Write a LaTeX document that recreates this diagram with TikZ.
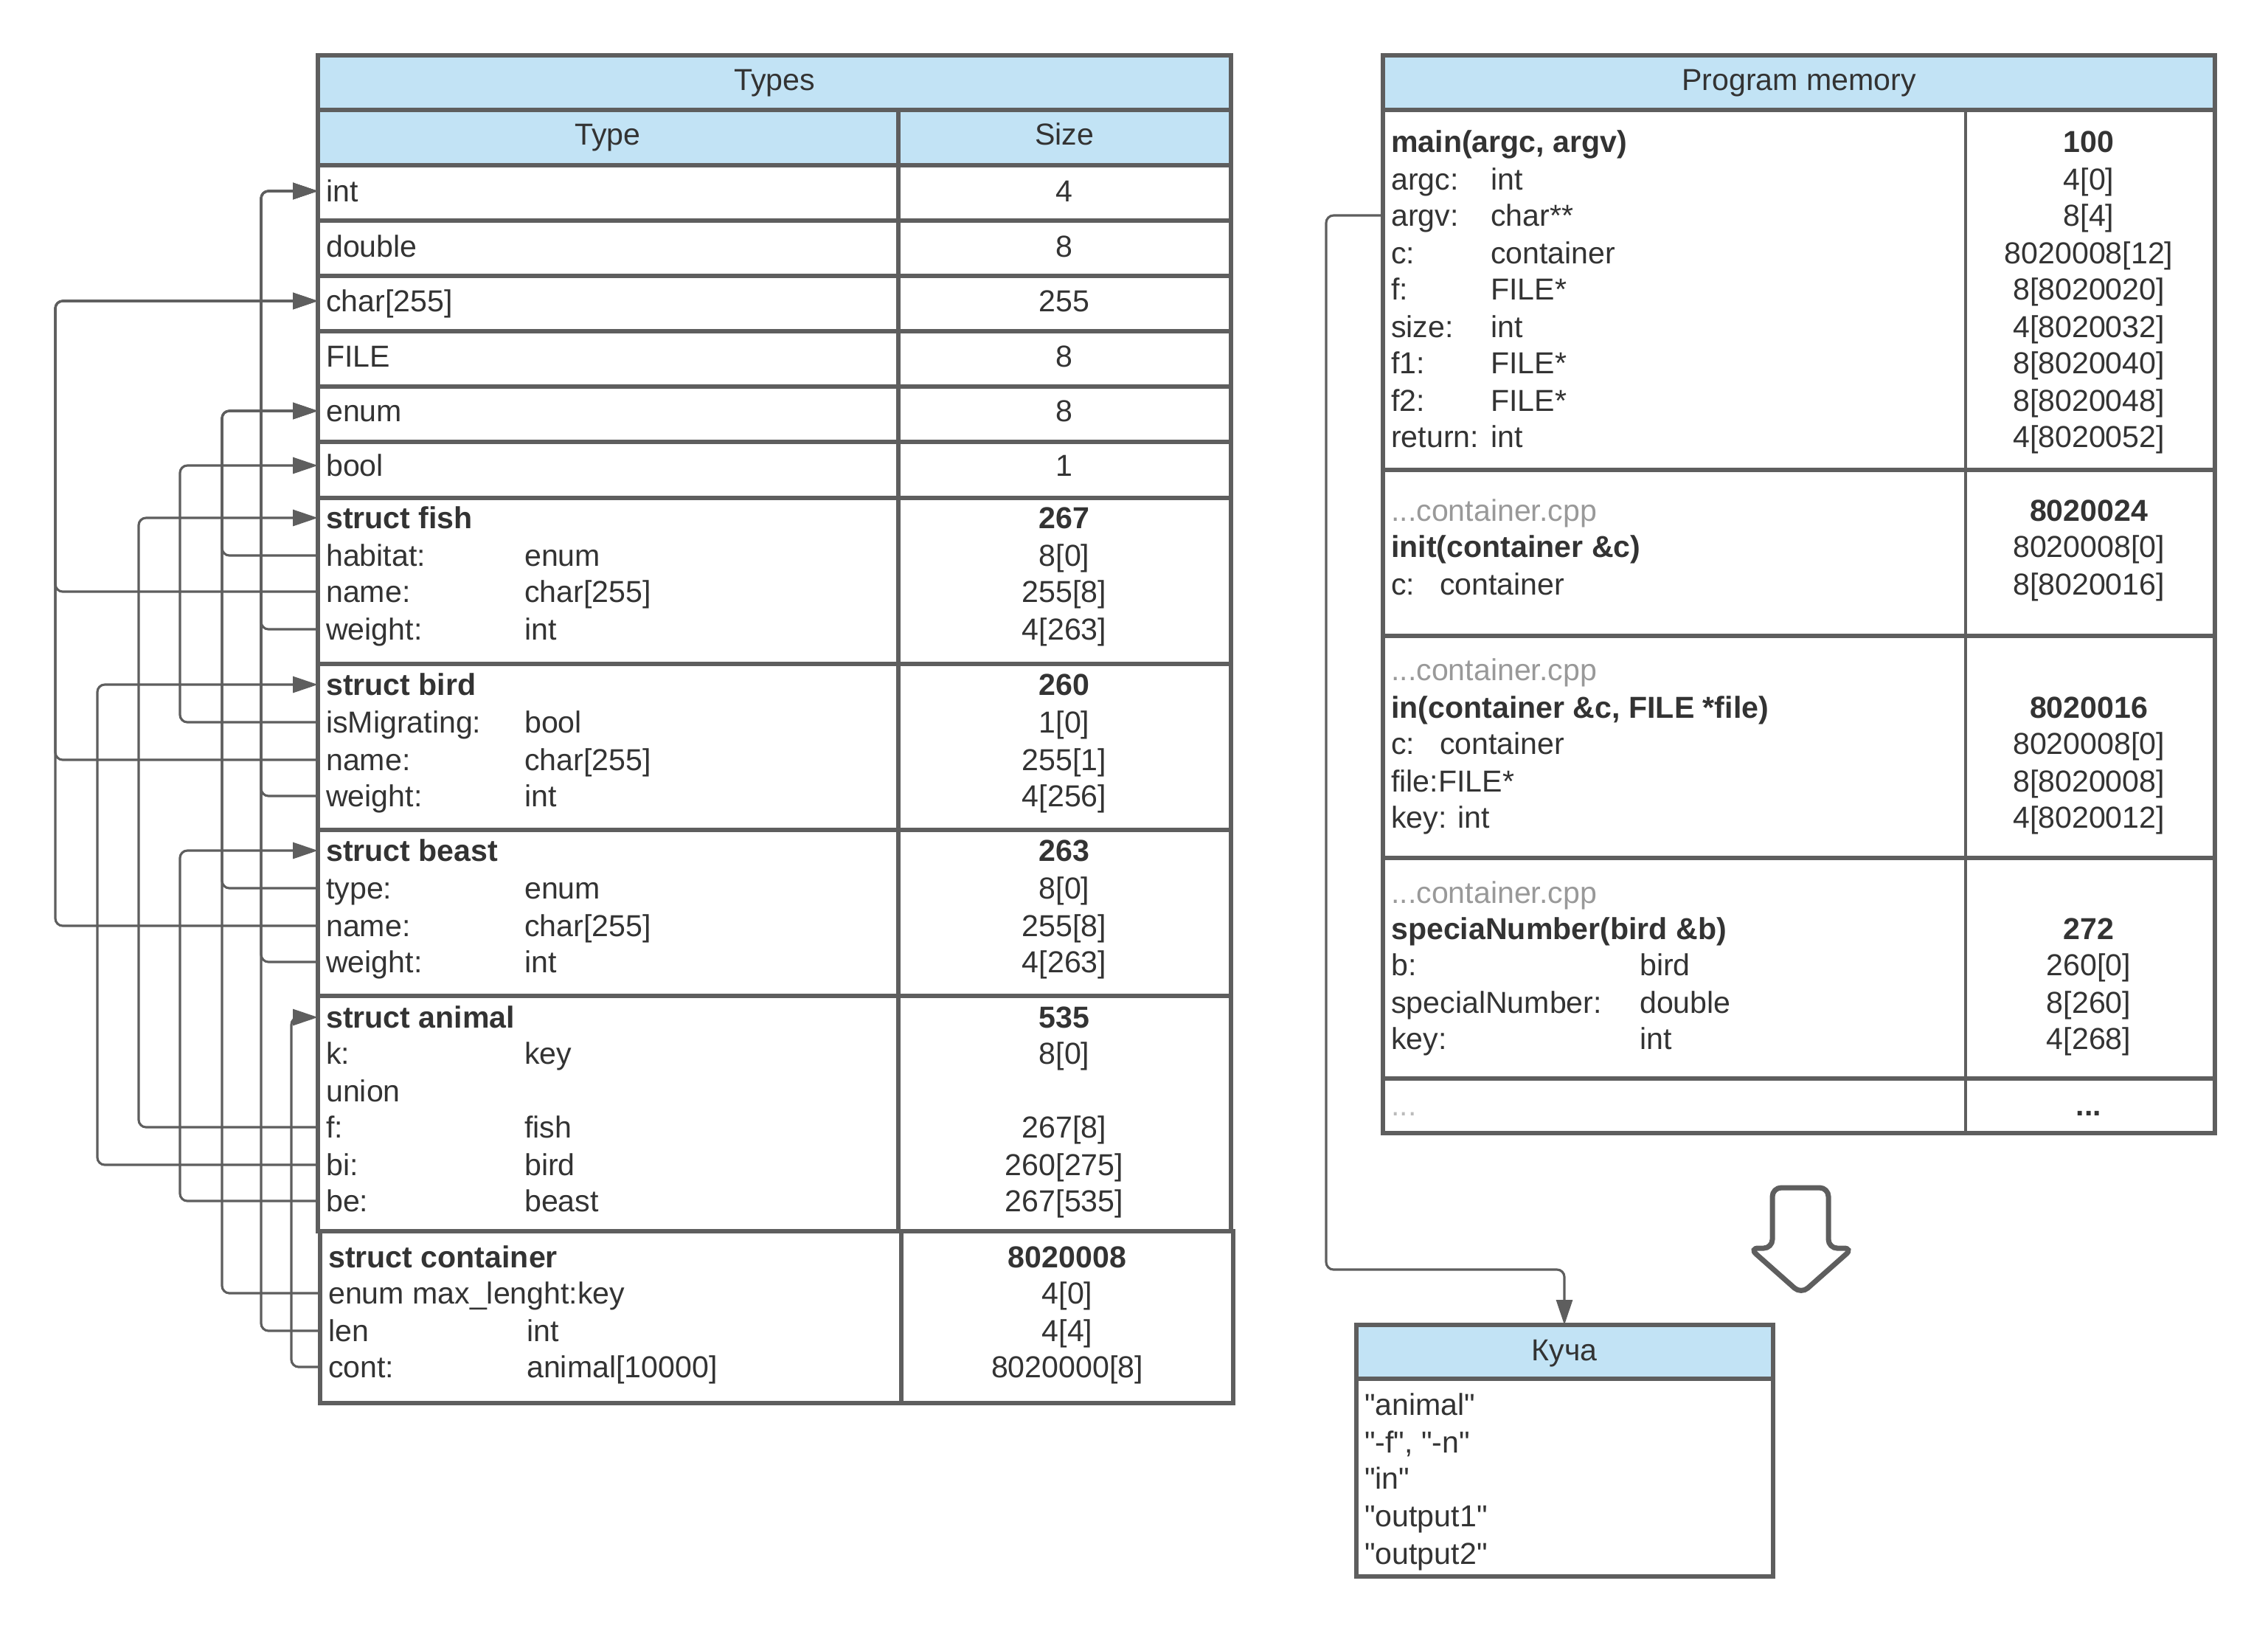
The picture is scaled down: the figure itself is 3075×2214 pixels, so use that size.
\documentclass[tikz,border=0pt]{standalone}
\usepackage{fontspec}
\setmainfont{Liberation Sans}[Ligatures=TeXOff]
\usepackage{tikz}
\usetikzlibrary{arrows.meta}
\definecolor{edge}{HTML}{5E5E5E}
\definecolor{hdr}{HTML}{C2E3F5}
\definecolor{ink}{HTML}{333333}
\definecolor{faint}{HTML}{999999}
\definecolor{fainter}{HTML}{BBBBBB}
\tikzset{%
  tipA/.tip={Triangle[length=3.4mm,width=2.2mm]},
  frame/.style={draw=edge, line width=1.9pt},
  thinframe/.style={draw=edge, line width=1.2pt},
  txt/.style={inner xsep=1.05mm, inner ysep=0pt, text=ink,
    font=\fontsize{11.7}{14.2}\selectfont, text height=3.3mm, text depth=0.5mm},
  fld/.style={txt, anchor=west},
  conn/.style={draw=edge, line width=0.9pt, rounded corners=1mm, -tipA}
}
\newcommand{\fname}[2][26.9mm]{\makebox[#1][l]{#2}}

\begin{document}
\begin{tikzpicture}[x=0.1mm,y=-0.1mm]
\useasboundingbox (0,0) rectangle (3075,2214);
% Types
\fill[hdr] (431,75) rectangle (1669,224);
\draw[frame] (431,75) rectangle (1669,1669);
\draw[frame] (431,149) -- (1669,149);
\draw[frame] (1218,149) -- (1218,1669);
\draw[frame] (431,224) -- (1669,224);
\draw[frame] (431,299) -- (1669,299);
\draw[frame] (431,374) -- (1669,374);
\draw[frame] (431,449) -- (1669,449);
\draw[frame] (431,524) -- (1669,524);
\draw[frame] (431,599) -- (1669,599);
\draw[frame] (431,675) -- (1669,675);
\draw[frame] (431,900) -- (1669,900);
\draw[frame] (431,1125) -- (1669,1125);
\draw[frame] (431,1350) -- (1669,1350);
\draw[frame] (434,1669) rectangle (1672,1902);
\draw[frame] (1222,1669) -- (1222,1902);
\node[txt] (types) at (1050,108) {Types};
\node[txt] (typeHd) at (824,182) {Type};
\node[txt] (sizeHd) at (1443,182) {Size};
\node[fld] (tInt) at (431,259) {int};
\node[txt] (zInt) at (1443,259) {4};
\node[fld] (tDouble) at (431,334) {double};
\node[txt] (zDouble) at (1443,334) {8};
\node[fld] (tChar) at (431,408) {char[255]};
\node[txt] (zChar) at (1443,408) {255};
\node[fld] (tFile) at (431,483) {FILE};
\node[txt] (zFile) at (1443,483) {8};
\node[fld] (tEnum) at (431,557) {enum};
\node[txt] (zEnum) at (1443,557) {8};
\node[fld] (tBool) at (431,631) {bool};
\node[txt] (zBool) at (1443,631) {1};
% struct fish
\node[fld] (sFish) at (431,702) {\textbf{struct fish}};
\node[fld] (fishHab) at (431,753) {\fname{habitat:}enum};
\node[fld] (fishName) at (431,802) {\fname{name:}char[255]};
\node[fld] (fishWt) at (431,853) {\fname{weight:}int};
\node[txt] (zFish) at (1443,702) {\textbf{267}};
\node[txt] (zFishHab) at (1443,753) {8[0]};
\node[txt] (zFishName) at (1443,802) {255[8]};
\node[txt] (zFishWt) at (1443,853) {4[263]};
% struct bird
\node[fld] (sBird) at (431,928) {\textbf{struct bird}};
\node[fld] (birdMig) at (431,979) {\fname{isMigrating:}bool};
\node[fld] (birdName) at (431,1030) {\fname{name:}char[255]};
\node[fld] (birdWt) at (431,1079) {\fname{weight:}int};
\node[txt] (zBird) at (1443,928) {\textbf{260}};
\node[txt] (zBirdMig) at (1443,979) {1[0]};
\node[txt] (zBirdName) at (1443,1030) {255[1]};
\node[txt] (zBirdWt) at (1443,1079) {4[256]};
% struct beast
\node[fld] (sBeast) at (431,1153) {\textbf{struct beast}};
\node[fld] (beastType) at (431,1204) {\fname{type:}enum};
\node[fld] (beastName) at (431,1255) {\fname{name:}char[255]};
\node[fld] (beastWt) at (431,1304) {\fname{weight:}int};
\node[txt] (zBeast) at (1443,1153) {\textbf{263}};
\node[txt] (zBeastType) at (1443,1204) {8[0]};
\node[txt] (zBeastName) at (1443,1255) {255[8]};
\node[txt] (zBeastWt) at (1443,1304) {4[263]};
% struct animal
\node[fld] (sAnimal) at (431,1379) {\textbf{struct animal}};
\node[fld] (anK) at (431,1428) {\fname{k:}key};
\node[fld] (anUnion) at (431,1479) {union};
\node[fld] (anF) at (431,1528) {\fname{f:}fish};
\node[fld] (anBi) at (431,1579) {\fname{bi:}bird};
\node[fld] (anBe) at (431,1628) {\fname{be:}beast};
\node[txt] (zAnimal) at (1443,1379) {\textbf{535}};
\node[txt] (zAnK) at (1443,1428) {8[0]};
\node[txt] (zAnF) at (1443,1528) {267[8]};
\node[txt] (zAnBi) at (1443,1579) {260[275]};
\node[txt] (zAnBe) at (1443,1628) {267[535]};
% struct container
\node[fld] (sCont) at (434,1704) {\textbf{struct container}};
\node[fld] (contMax) at (434,1753) {enum max\_lenght:key};
\node[fld] (contLen) at (434,1804) {\fname{len}int};
\node[fld] (contCont) at (434,1853) {\fname{cont:}animal[10000]};
\node[txt] (zCont) at (1447,1704) {\textbf{8020008}};
\node[txt] (zContMax) at (1447,1753) {4[0]};
\node[txt] (zContLen) at (1447,1804) {4[4]};
\node[txt] (zContCont) at (1447,1853) {8020000[8]};
% links to the types
\coordinate (busChar) at (75,0);
\coordinate (busBird) at (132,0);
\coordinate (busFish) at (188,0);
\coordinate (busBool) at (244,0);
\coordinate (busEnum) at (301,0);
\coordinate (busInt) at (354,0);
\coordinate (busAnimal) at (395,0);
\draw[conn] (contLen.west) -- (contLen.west -| busInt) |- (tInt.west);
\draw[conn] (beastWt.west) -- (beastWt.west -| busInt) |- (tInt.west);
\draw[conn] (birdWt.west) -- (birdWt.west -| busInt) |- (tInt.west);
\draw[conn] (fishWt.west) -- (fishWt.west -| busInt) |- (tInt.west);
\draw[conn] (beastName.west) -- (beastName.west -| busChar) |- (tChar.west);
\draw[conn] (birdName.west) -- (birdName.west -| busChar) |- (tChar.west);
\draw[conn] (fishName.west) -- (fishName.west -| busChar) |- (tChar.west);
\draw[conn] (contMax.west) -- (contMax.west -| busEnum) |- (tEnum.west);
\draw[conn] (beastType.west) -- (beastType.west -| busEnum) |- (tEnum.west);
\draw[conn] (fishHab.west) -- (fishHab.west -| busEnum) |- (tEnum.west);
\draw[conn] (birdMig.west) -- (birdMig.west -| busBool) |- (tBool.west);
\draw[conn] (anF.west) -- (anF.west -| busFish) |- (sFish.west);
\draw[conn] (anBi.west) -- (anBi.west -| busBird) |- (sBird.west);
\draw[conn] (anBe.west) -- (anBe.west -| busBool) |- (sBeast.west);
\draw[conn] (contCont.west) -- (contCont.west -| busAnimal) |- (sAnimal.west);
% Program memory
\fill[hdr] (1875,75) rectangle (3003,149);
\draw[frame] (1875,75) rectangle (3003,1536);
\draw[frame] (1875,149) -- (3003,149);
\draw[thinframe] (2665,149) -- (2665,1536);
\draw[frame] (1875,637) -- (3003,637);
\draw[frame] (1875,862) -- (3003,862);
\draw[frame] (1875,1163) -- (3003,1163);
\draw[frame] (1875,1462) -- (3003,1462);
\node[txt] (progmem) at (2439,108) {Program memory};
\node[fld] (mMain) at (1875,192) {\textbf{main(argc, argv)}};
\node[fld] (mArgc) at (1875,243) {\fname[13.5mm]{argc:}int};
\node[fld] (mArgv) at (1875,292) {\fname[13.5mm]{argv:}char**};
\node[fld] (mC) at (1875,343) {\fname[13.5mm]{c:}container};
\node[fld] (mF) at (1875,392) {\fname[13.5mm]{f:}FILE*};
\node[fld] (mSize) at (1875,443) {\fname[13.5mm]{size:}int};
\node[fld] (mFa) at (1875,492) {\fname[13.5mm]{f1:}FILE*};
\node[fld] (mFb) at (1875,543) {\fname[13.5mm]{f2:}FILE*};
\node[fld] (mRet) at (1875,592) {\fname[13.5mm]{return:}int};
\node[txt] (zMain) at (2832,192) {\textbf{100}};
\node[txt] (zArgc) at (2832,243) {4[0]};
\node[txt] (zArgv) at (2832,292) {8[4]};
\node[txt] (zC) at (2832,343) {8020008[12]};
\node[txt] (zF) at (2832,392) {8[8020020]};
\node[txt] (zSize) at (2832,443) {4[8020032]};
\node[txt] (zFa) at (2832,492) {8[8020040]};
\node[txt] (zFb) at (2832,543) {8[8020048]};
\node[txt] (zRet) at (2832,592) {4[8020052]};
% init
\node[fld, text=faint] (iSrc) at (1875,692) {...container.cpp};
\node[fld] (iHead) at (1875,741) {\textbf{init(container \&c)}};
\node[fld] (iC) at (1875,792) {\fname[6.6mm]{c:}container};
\node[txt] (zInit) at (2832,692) {\textbf{8020024}};
\node[txt] (zIHead) at (2832,741) {8020008[0]};
\node[txt] (zIC) at (2832,792) {8[8020016]};
% in
\node[fld, text=faint] (nSrc) at (1875,908) {...container.cpp};
\node[fld] (nHead) at (1875,959) {\textbf{in(container \&c, FILE *file)}};
\node[fld] (nC) at (1875,1008) {\fname[6.6mm]{c:}container};
\node[fld] (nFile) at (1875,1059) {file:FILE*};
\node[fld] (nKey) at (1875,1108) {key: int};
\node[txt] (zIn) at (2832,959) {\textbf{8020016}};
\node[txt] (zNC) at (2832,1008) {8020008[0]};
\node[txt] (zNFile) at (2832,1059) {8[8020008]};
\node[txt] (zNKey) at (2832,1108) {4[8020012]};
% speciaNumber
\node[fld, text=faint] (pSrc) at (1875,1210) {...container.cpp};
\node[fld] (pHead) at (1875,1259) {\textbf{speciaNumber(bird \&b)}};
\node[fld] (pB) at (1875,1308) {\fname[33.7mm]{b:}bird};
\node[fld] (pNum) at (1875,1359) {\fname[33.7mm]{specialNumber:}double};
\node[fld] (pKey) at (1875,1408) {\fname[33.7mm]{key:}int};
\node[txt] (zSpec) at (2832,1259) {\textbf{272}};
\node[txt] (zPB) at (2832,1308) {260[0]};
\node[txt] (zPNum) at (2832,1359) {8[260]};
\node[txt] (zPKey) at (2832,1408) {4[268]};
\node[fld, text=fainter] (moreL) at (1875,1498) {...};
\node[txt] (moreR) at (2832,1498) {\textbf{...}};
% heap
\fill[hdr] (1839,1796) rectangle (2404,1869);
\draw[frame] (1839,1796) rectangle (2404,2137);
\draw[frame] (1839,1869) -- (2404,1869);
\node[txt] (heap) at (2121,1830) {Куча};
\node[fld] (hAnimal) at (1839,1904) {"animal"};
\node[fld] (hFlags) at (1839,1955) {"-f", "-n"};
\node[fld] (hIn) at (1839,2004) {"in"};
\node[fld] (hOut1) at (1839,2055) {"output1"};
\node[fld] (hOut2) at (1839,2106) {"output2"};
\coordinate (heapTop) at (2121,1796);
\coordinate (heapBend) at (1798,1721);
\draw[conn] (mArgv.west) -| (heapBend) -| (heapTop);
% hollow arrow
\draw[edge, line width=2pt, rounded corners=1.2mm] (2403,1610) -- (2479,1610) -- (2479,1692) -- (2512,1692) -- (2442,1754) -- (2372,1692) -- (2403,1692) -- cycle;
\end{tikzpicture}
\end{document}
